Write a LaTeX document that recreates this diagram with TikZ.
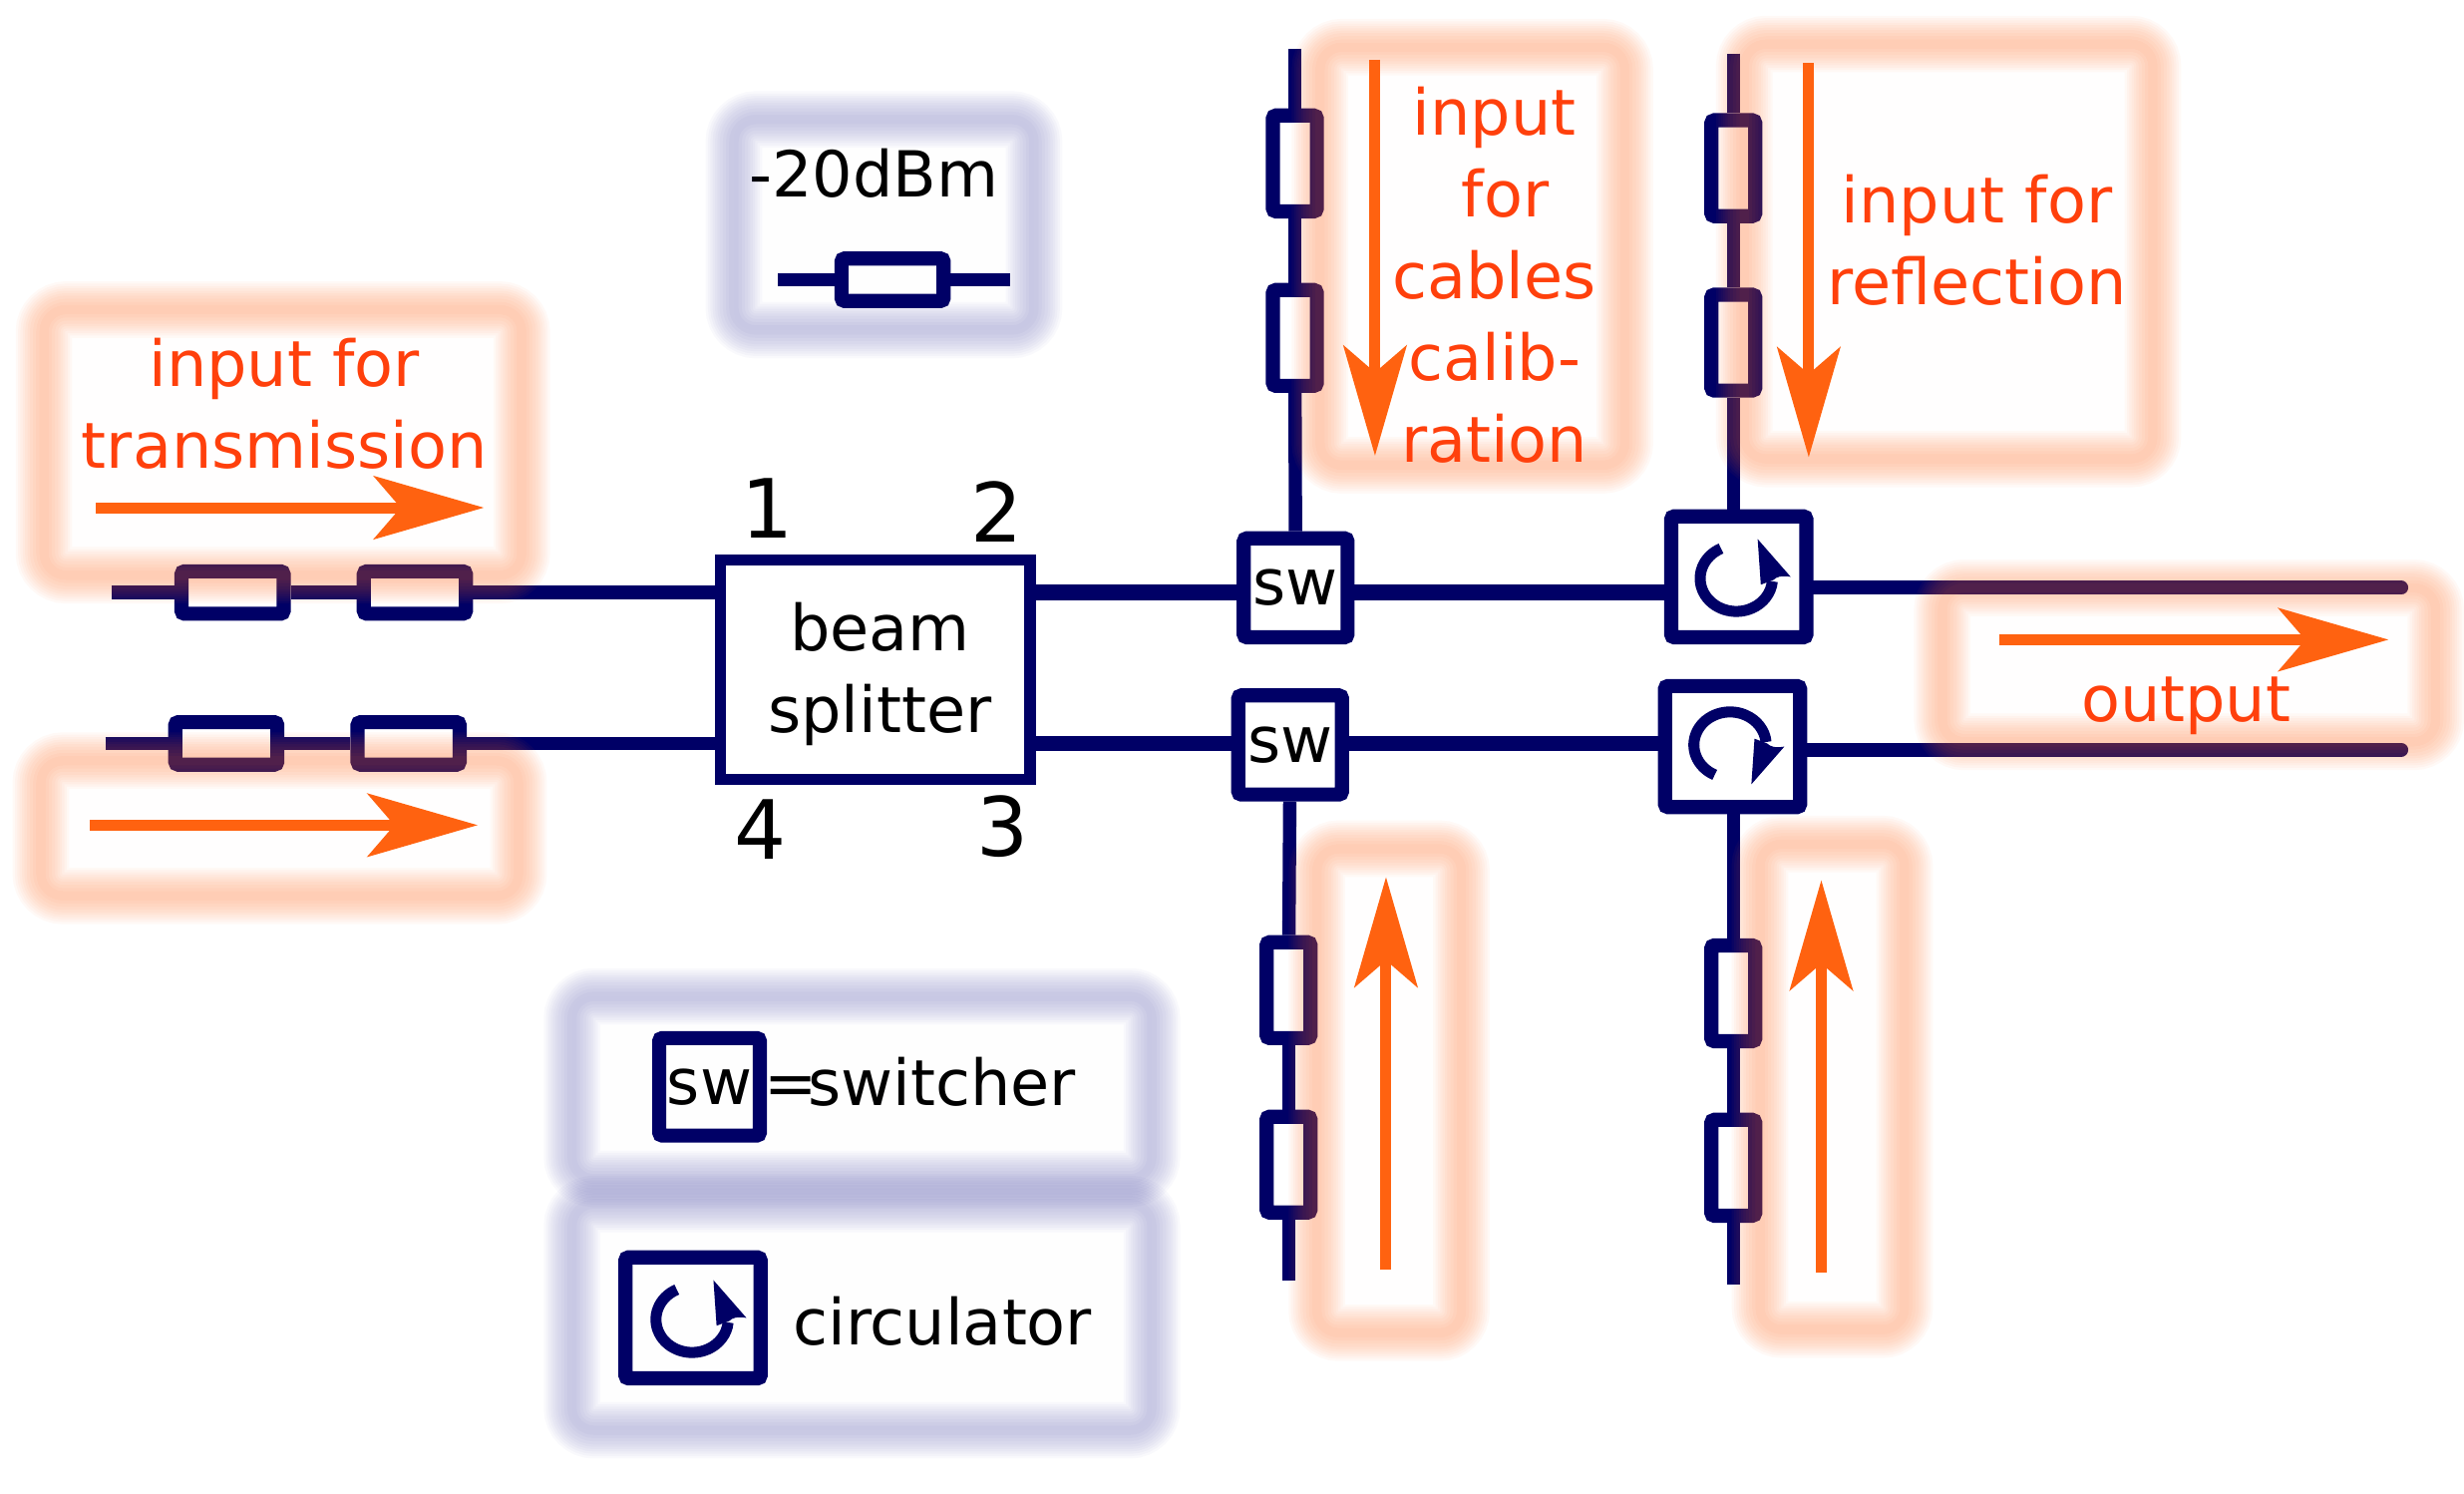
\documentclass[tikz,border=0pt]{standalone}
\usepackage{fontspec}
\setmainfont{DejaVu Sans}
\usepackage{xcolor}
\usetikzlibrary{arrows.meta,positioning,calc}

\definecolor{navyline}{HTML}{000066}
\definecolor{flowcol}{HTML}{FF6210}
\definecolor{labelcol}{HTML}{FF400C}
\definecolor{peachglow}{HTML}{FF6A20}
\definecolor{blueglow}{HTML}{000080}

% soft frame: stacked see-through strokes, colour / opacity / corners
\newcommand{\softframe}[4]{
  \fill[#1, opacity=0.005, rounded corners=12pt] #3 rectangle #4;
  \foreach \w in {6,10,14,18,21,24,27,30,33,36} {
    \draw[draw=#1, opacity=#2, line width=\w pt, rounded corners=14pt] #3 rectangle #4;
  }
}

\begin{document}
\begin{tikzpicture}[
    x=1pt, y=1pt,
    every node/.style = {font=\fontsize{40.4}{52}\selectfont},
    wirethin/.style = {draw=navyline, line width=8.5pt},
    wire/.style = {draw=navyline, line width=10pt},
    wireout/.style = {draw=navyline, line width=9pt, line cap=round},
    atten/.style = {rectangle, draw=navyline, fill=white, line width=9pt, rounded corners=2pt, inner sep=0pt, minimum width=65pt, minimum height=27pt},
    attenv/.style = {atten, minimum width=28pt, minimum height=61pt},
    swbox/.style = {rectangle, draw=navyline, fill=white, line width=9pt, rounded corners=2pt, inner sep=0pt, minimum width=66pt, minimum height=63pt},
    circbox/.style = {swbox, minimum width=86pt, minimum height=77pt},
    flow/.style = {draw=flowcol, line width=7pt, -{Stealth[length=70pt,width=40pt,inset=17pt]}},
    tag/.style = {text=labelcol, align=center, inner sep=0pt},
    plain/.style = {align=center, inner sep=0pt},
    num/.style = {font=\fontsize{52}{52}\selectfont, inner sep=0pt},
    circsym/.pic = {
      \draw[navyline, line width=7pt] (-9.3,19) arc (115:355:23 and 21);
      \fill[navyline] (14,25) -- (35,1) .. controls (29,2) and (26,1) .. (24,-1) -- (16,-4) -- cycle;
    }
]
\useasboundingbox (0,0) rectangle (1568,-950);

% the blocks
\node[rectangle, draw=navyline, fill=white, line width=7pt, inner sep=0pt, minimum width=197pt, minimum height=140pt] (bs) at (557,-426) {};
\node[swbox] (swA) at (824.5,-374) {sw};
\node[swbox] (swB) at (821,-474) {sw};
\node[circbox] (circA) at (1106.5,-367) {};
\node[circbox] (circB) at (1102.5,-475) {};
\pic at ($(circA)+(-2,-1)$) {circsym};
\pic[yscale=-1] at ($(circB)+(-2,1)$) {circsym};

% attenuators
\node[atten] (rA1) at (148,-377) {};
\node[atten, right=42pt of rA1] (rA2) {};
\node[atten] (rB1) at (144,-473) {};
\node[atten, right=42pt of rB1] (rB2) {};
\node[attenv] (rC1) at (824,-104) {};
\node[attenv, below=41pt of rC1] (rC2) {};
\node[attenv] (rD1) at (1103,-107) {};
\node[attenv, below=41pt of rD1] (rD2) {};
\node[attenv] (rE1) at (820,-630) {};
\node[attenv, below=41pt of rE1] (rE2) {};
\node[attenv] (rF1) at (1103,-632) {};
\node[attenv, below=41pt of rF1] (rF2) {};
\node[atten] (rP) at (568,-178) {};

% loose line ends
\coordinate (inA) at (71,-377);
\coordinate (inB) at (67,-473);
\coordinate (inC) at (824,-31);
\coordinate (inD) at (1103,-34);
\coordinate (inE) at (820,-815);
\coordinate (inF) at (1103,-817);
\coordinate (outA) at (1528,-374);
\coordinate (outB) at (1528,-477);
\coordinate (pL) at (495,-178);
\coordinate (pR) at (643,-178);

% lines
\draw[wirethin] (inA) -- (rA1);
\draw[wirethin] (rA1) -- (rA2);
\draw[wirethin] (rA2) -- (bs.west |- rA2);
\draw[wirethin] (inB) -- (rB1);
\draw[wirethin] (rB1) -- (rB2);
\draw[wirethin] (rB2) -- (bs.west |- rB2);
\draw[wire] (bs.east |- rA2) -- (swA.west |- rA2);
\draw[wire] (bs.east |- rB2) -- (swB.west |- rB2);
\draw[wire] (swA.east |- rA2) -- (circA.west |- rA2);
\draw[wire] (swB.east |- rB2) -- (circB.west |- rB2);
\draw[wireout] (outA -| circA.east) -- (outA);
\draw[wireout] (outB -| circB.east) -- (outB);
\draw[wirethin] (inC) -- (rC1);
\draw[wirethin] (rC1) -- (rC2);
\draw[wirethin] (rC2) -- (swA);
\draw[wirethin] (inD) -- (rD1);
\draw[wirethin] (rD1) -- (rD2);
\draw[wirethin] (rD2) -- (rD2 |- circA.north);
\draw[wirethin] (inE) -- (rE2);
\draw[wirethin] (rE2) -- (rE1);
\draw[wirethin] (rE1) -- (swB);
\draw[wirethin] (inF) -- (rF2);
\draw[wirethin] (rF2) -- (rF1);
\draw[wirethin] (rF1) -- (rF1 |- circB.south);
\draw[wirethin] (pL) -- (rP) -- (pR);

% legend
\node[swbox, minimum width=64pt, minimum height=62pt] (swL) at (451.5,-691.5) {sw};
\node[right=-2pt of swL, inner sep=0pt, yshift=3pt] (swT) {=\kern-6pt switcher};
\node[circbox] (circL) at (441,-838.5) {};
\pic at ($(circL)+(-1,-1)$) {circsym};
\node[right=16pt of circL, inner sep=0pt, yshift=-2pt] (circT) {circulator};
\node[plain] (powT) at (556,-110) {-20dBm};
\node[plain] (bsT) at (560,-429) {beam\\splitter};

% soft frames
\softframe{peachglow}{0.038}{(28,-197)}{(332,-366)}
\softframe{peachglow}{0.038}{(26,-484)}{(330,-570)}
\softframe{peachglow}{0.038}{(840,-30)}{(1034,-296)}
\softframe{peachglow}{0.038}{(1110,-28)}{(1370,-292)}
\softframe{peachglow}{0.038}{(1236,-374)}{(1550,-472)}
\softframe{peachglow}{0.038}{(838,-540)}{(930,-848)}
\softframe{peachglow}{0.038}{(1120,-537)}{(1212,-846)}
\softframe{blueglow}{0.022}{(467,-76)}{(658,-210)}
\softframe{blueglow}{0.022}{(364,-634)}{(733,-750)}
\softframe{blueglow}{0.022}{(364,-766)}{(733,-910)}

% flow arrows
\coordinate (fA1) at (61,-323);
\coordinate (fA2) at (308,-323);
\coordinate (fB1) at (57,-525);
\coordinate (fB2) at (304,-525);
\coordinate (fC1) at (875,-38);
\coordinate (fC2) at (875,-290);
\coordinate (fD1) at (1151,-40);
\coordinate (fD2) at (1151,-291);
\coordinate (fE1) at (1272,-407);
\coordinate (fE2) at (1520,-407);
\coordinate (fF1) at (882,-808);
\coordinate (fF2) at (882,-558);
\coordinate (fG1) at (1159,-810);
\coordinate (fG2) at (1159,-560);
\foreach \a in {A,B,C,D,E,F,G} {
  \draw[flow] (f\a1) -- (f\a2);
}

% labels
\node[tag] (txTrans) at (181,-257) {input for\\transmission};
\node[tag] (txCal) at (951,-175) {input\\\hspace*{14pt}for\\cables\\calib-\\ration};
\node[tag] (txRefl) at (1258,-153) {input for\\reflection};
\node[tag] (txOut) at (1391,-449) {output};
\node[num] (p1) at (488.5,-323.5) {1};
\node[num] (p2) at (634.5,-325.5) {2};
\node[num] (p3) at (638,-526) {3};
\node[num] (p4) at (484,-528) {4};
\end{tikzpicture}
\end{document}
